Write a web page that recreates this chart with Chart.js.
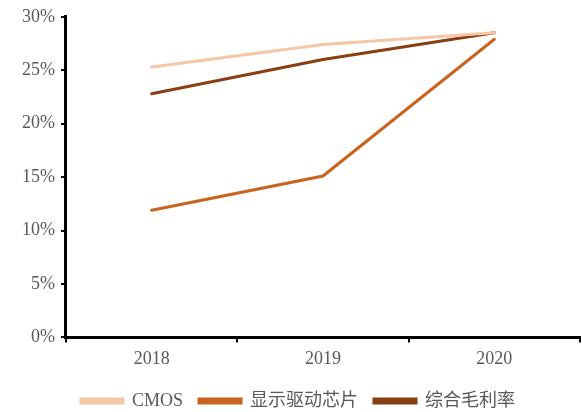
<!DOCTYPE html>
<html>
<head>
<meta charset="utf-8">
<script src="https://cdn.jsdelivr.net/npm/chart.js@4/dist/chart.umd.min.js"></script>
<style>
  html, body { margin: 0; padding: 0; background: #fff; }
  #wrap { width: 582px; height: 412px; }
</style>
</head>
<body>
<div id="wrap"><canvas id="c" width="582" height="412"></canvas></div>
<script>
// Gross margin by product line, percent
const years = ['2018', '2019', '2020'];
const cmos = [25.3, 27.4, 28.5];
const displayDriver = [11.9, 15.1, 27.9];
const overall = [22.8, 26.0, 28.5];
const seriesNames = ['CMOS', '显示驱动芯片', '综合毛利率'];
const yTicks = [0, 5, 10, 15, 20, 25, 30];

const colors = ['#F6C7A6', '#C9641F', '#8A3F12'];
const labelFont = { family: "'Liberation Serif', 'DejaVu Serif', serif", size: 18 };
const legendFont = { family: "'Liberation Serif', 'Noto Sans CJK SC', serif", size: 18 };

const ds = (label, data, color) => ({
  label, data,
  borderColor: color,
  backgroundColor: color,
  borderWidth: 3,
  pointRadius: 0,
  tension: 0,
  borderCapStyle: 'round'
});

new Chart(document.getElementById('c'), {
  type: 'line',
  data: {
    labels: years,
    datasets: [
      ds(seriesNames[0], cmos, colors[0]),
      ds(seriesNames[1], displayDriver, colors[1]),
      ds(seriesNames[2], overall, colors[2])
    ]
  },
  options: {
    responsive: false,
    animation: false,
    layout: { padding: { top: 5, right: 2, left: 16, bottom: -8 } },
    plugins: {
      legend: {
        position: 'bottom',
        labels: {
          boxWidth: 42,
          boxHeight: 4,
          color: '#595959',
          font: legendFont,
          padding: 16
        }
      },
      tooltip: { enabled: false }
    },
    scales: {
      x: {
        offset: true,
        grid: {
          offset: true,
          drawOnChartArea: false,
          drawTicks: true,
          tickLength: 5,
          color: '#000',
          lineWidth: 2
        },
        border: { color: '#000', width: 3 },
        ticks: { color: '#595959', font: labelFont, padding: 6 }
      },
      y: {
        min: 0,
        max: 30,
        afterBuildTicks: (axis) => { axis.ticks = yTicks.map(v => ({ value: v })); },
        grid: {
          drawOnChartArea: false,
          drawTicks: true,
          tickLength: 5,
          color: '#000',
          lineWidth: 2
        },
        border: { color: '#000', width: 3 },
        ticks: {
          color: '#595959',
          font: labelFont,
          padding: 6,
          callback: (v) => v + '%'
        }
      }
    }
  }
});
</script>
</body>
</html>
